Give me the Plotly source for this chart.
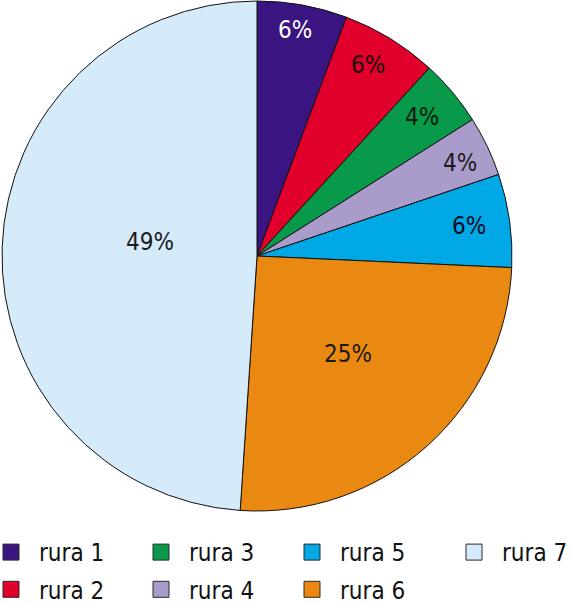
import math
import plotly.graph_objects as go

labels = ["rura 1", "rura 2", "rura 3", "rura 4", "rura 5", "rura 6", "rura 7"]
values = [5.7, 6.1, 4.2, 3.8, 5.9, 25.3, 48.9]
colors = ["#3a1480", "#e0002b", "#08994a", "#a99ccb", "#00a8e6", "#ea8912", "#d5ebf9"]
text_colors = ["#ffffff", "#1a0a0a", "#0a1a0a", "#1a1a1a", "#0a0a1a", "#1a1a1a", "#1a1a1a"]
# label placement style: radial fraction and small angular nudge (degrees)
label_radius = [0.898, 0.866, 0.846, 0.876, 0.839, 0.524, 0.423]
label_angle_nudge = [-0.8, -1.3, -0.2, 0.9, 0.0, -1.2, 5.6]
# legend columns: which slices go in each column (column-major as in the reference)
legend_columns = [[0, 1], [2, 3], [4, 5], [6]]
legend_col_px = [11, 161, 312, 474]   # symbol centre of each column, px

W, H = 570, 605
FONT = "DejaVu Sans Condensed, Liberation Sans Narrow, sans-serif"

# pie geometry in pixels
cx, cy, R = 257, 256, 255
dom_x = [(cx - R) / W, (cx + R) / W]
dom_y = [1 - (cy + R) / H, 1 - (cy - R) / H]

fig = go.Figure()
fig.add_trace(go.Pie(
    labels=labels, values=values, sort=False, direction="clockwise", rotation=0,
    marker=dict(colors=colors, line=dict(color="#111111", width=1)),
    textinfo="none", hoverinfo="label+percent", showlegend=False,
    domain=dict(x=dom_x, y=dom_y),
))

legend_layouts = {}
SYM_OFF = 13  # px from legend left edge to symbol centre
for c, col in enumerate(legend_columns):
    lname = "legend" if c == 0 else f"legend{c + 1}"
    for i in col:
        fig.add_trace(go.Scatter(
            x=[None], y=[None], mode="markers", name=labels[i],
            legend=lname, legendgroup=labels[i],
            marker=dict(symbol="square", size=18, color=colors[i],
                        line=dict(color="#2a2a2a", width=1)),
        ))
    legend_layouts[lname] = dict(
        orientation="v", x=(legend_col_px[c] - SYM_OFF) / W, y=1 - 530 / H,
        xanchor="left", yanchor="top",
        font=dict(family=FONT, size=24, color="#111111"),
        traceorder="grouped", tracegroupgap=3,
        itemwidth=46, indentation=-15,
        itemclick=False, itemdoubleclick=False,
        bgcolor="rgba(0,0,0,0)",
    )

total = sum(values)
cum = 0.0
annotations = []
for v, tc, rr, nd in zip(values, text_colors, label_radius, label_angle_nudge):
    mid = (cum + v / 2) / total * 2 * math.pi + math.radians(nd)
    cum += v
    px = cx + rr * R * math.sin(mid)
    py = cy - rr * R * math.cos(mid)
    annotations.append(dict(
        x=px / W, y=1 - py / H, xref="paper", yref="paper",
        xanchor="center", yanchor="middle",
        text=f"{round(v / total * 100)}%", showarrow=False,
        font=dict(family=FONT, size=24, color=tc),
    ))

fig.update_layout(
    width=W, height=H,
    margin=dict(l=0, r=0, t=0, b=0, autoexpand=False),
    paper_bgcolor="white", plot_bgcolor="white",
    xaxis=dict(visible=False), yaxis=dict(visible=False),
    annotations=annotations,
    showlegend=True,
    **legend_layouts,
)

fig.write_html("out.html")
